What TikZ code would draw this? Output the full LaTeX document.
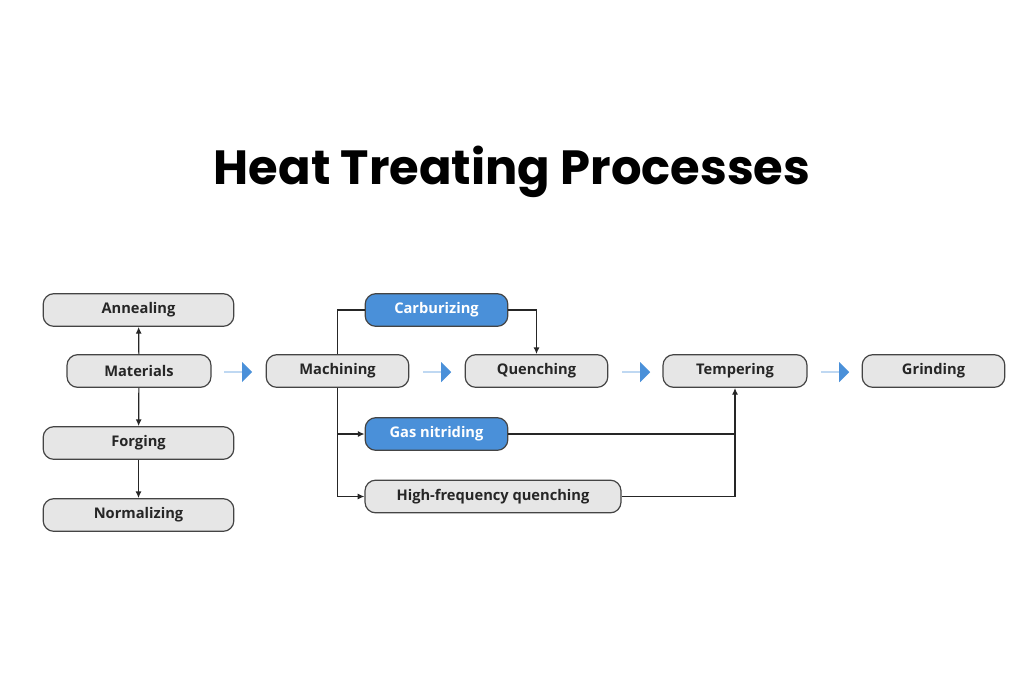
\documentclass[tikz,border=0pt]{standalone}
\usepackage{fontspec}
\setmainfont{Open Sans}
\newfontfamily\titlefont{Poppins}
\usetikzlibrary{arrows.meta,shapes.arrows}
\definecolor{boxgray}{HTML}{E6E6E6}
\definecolor{boxblue}{HTML}{4A90D9}
\definecolor{edge}{HTML}{444444}
\begin{document}
\begin{tikzpicture}[x=0.75pt,y=-0.75pt,
  box/.style={draw=edge,line width=0.9pt,rounded corners=8pt,fill=boxgray,minimum height=24.5pt,inner sep=0pt,font=\fontsize{11}{13}\selectfont\bfseries,text=black!85},
  bbox/.style={box,fill=boxblue,text=white},
  conn/.style={line width=0.9pt,draw=black!85},
  arr/.style={conn,-{Latex[length=5pt,width=4.5pt]}},
  flow/.style={single arrow,fill=boxblue,draw=none,minimum height=21pt,single arrow head extend=4pt,minimum width=15pt,inner sep=0pt,single arrow tip angle=90}]
\useasboundingbox (0,0) rectangle (1024,682);
\node[font=\titlefont\fontsize{36}{40}\selectfont\bfseries] (title) at (512,172) {Heat Treating Processes};
\node[box,minimum width=143pt] (ann) at (138.5,310) {Annealing};
\node[box,minimum width=108pt] (mat) at (139,371) {Materials};
\node[box,minimum width=143pt] (forg) at (138.5,443) {Forging};
\node[box,minimum width=143pt] (norm) at (138.5,515) {Normalizing};
\node[box,minimum width=107pt] (mach) at (337.5,371) {Machining};
\node[bbox,minimum width=107pt] (carb) at (436.5,310) {Carburizing};
\node[box,minimum width=107pt] (quen) at (536.5,371) {Quenching};
\node[box,minimum width=108pt] (temp) at (735,371) {Tempering};
\node[box,minimum width=107pt] (grind) at (933.5,371) {Grinding};
\node[bbox,minimum width=107pt] (gas) at (436.5,434) {Gas nitriding};
\node[box,minimum width=192pt] (hf) at (493,496.5) {High-frequency quenching};
\node[flow] (f1) at (238,372) {};
\node[flow] (f2) at (437,372) {};
\node[flow] (f3) at (636,372) {};
\node[flow] (f4) at (835,372) {};
\draw[arr] (mat) -- (ann);
\draw[arr] (mat) -- (forg);
\draw[arr] (forg) -- (norm);
\coordinate (mtop) at (337.5,310);
\coordinate (mgas) at (337.5,434);
\coordinate (mhf) at (337.5,496.5);
\draw[conn] (mach.north) -- (mtop) -- (carb.west);
\draw[conn] (mach.south) -- (mhf);
\draw[arr] (mgas) -- (gas.west);
\draw[arr] (mhf) -- (hf.west);
\draw[arr] (carb.east) -| (quen.north);
\coordinate (tgas) at (735,434);
\draw[conn] (gas.east) -- (tgas);
\draw[arr] (hf.east) -| (temp.south);
\end{tikzpicture}
\end{document}
